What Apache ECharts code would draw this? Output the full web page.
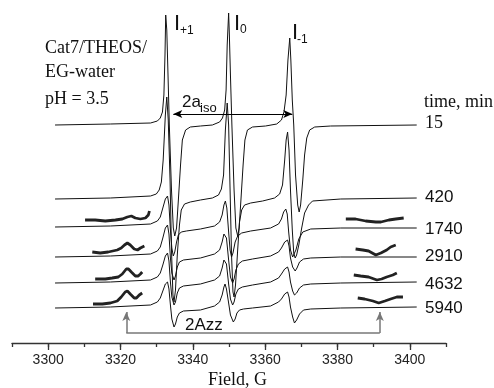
<!DOCTYPE html>
<html><head><meta charset="utf-8">
<script src="https://cdn.jsdelivr.net/npm/echarts@6/dist/echarts.min.js"></script>
<style>html,body{margin:0;padding:0;background:#fff}#c{width:494px;height:388px}</style>
</head><body><div id="c"></div>
<script>
// time labels (min) and vertical offsets of each spectrum
const times = ['15','420','1740','2910','4632','5940'];
const offsets = [218,144,116,86,60,35];
const majorTicks = [3300,3320,3340,3360,3380,3400];

// [field G, intensity]
const spec15 = [[3301.9,0],[3317.2,1],[3328.3,2],[3330.2,4],[3331.0,7],[3331.6,13],[3332.0,30],[3332.3,70],[3332.5,110],[3332.8,95],[3333.1,55],[3333.5,0],[3334.1,-65],[3334.6,-103],[3335.0,-111],[3335.5,-103],[3336.0,-75],[3336.6,-40],[3337.1,-15],[3338.0,-5],[3339.3,-2],[3342.1,-1],[3345.4,0],[3347.4,3],[3348.2,7],[3348.8,15],[3349.2,35],[3349.5,80],[3349.9,112],[3350.1,90],[3350.4,50],[3350.8,0],[3351.4,-65],[3351.9,-103],[3352.4,-111],[3352.8,-103],[3353.3,-75],[3353.9,-40],[3354.4,-15],[3355.1,-5],[3356.5,-2],[3360.1,-1],[3363.2,1],[3364.5,5],[3365.2,13],[3365.8,30],[3366.3,65],[3366.8,87],[3367.1,65],[3367.5,25],[3367.9,0],[3368.4,-50],[3369.0,-80],[3369.4,-87],[3369.8,-80],[3370.4,-55],[3370.9,-30],[3371.5,-13],[3372.3,-5],[3373.7,-2],[3378.1,-1],[3401.9,0]];
const spec420 = [[3301.9,0],[3317.2,1],[3328.3,3],[3329.9,5],[3330.7,9],[3331.3,17],[3331.8,39],[3332.4,84],[3332.8,102],[3333.2,79],[3333.7,19],[3334.1,-51],[3334.5,-96],[3334.8,-103],[3335.2,-91],[3335.7,-56],[3336.3,-26],[3336.8,-11],[3337.7,-5],[3339.3,-3],[3342.1,-1],[3345.4,1],[3347.1,4],[3347.9,10],[3348.5,24],[3349.0,69],[3349.5,96],[3349.9,74],[3350.3,9],[3350.7,-56],[3351.1,-93],[3351.4,-98],[3351.8,-86],[3352.4,-51],[3352.9,-23],[3353.5,-11],[3354.3,-6],[3356.0,-4],[3359.3,-2],[3362.6,1],[3364.0,5],[3364.8,14],[3365.4,39],[3365.8,59],[3366.2,67],[3366.6,49],[3367.0,9],[3367.5,-31],[3367.9,-54],[3368.3,-59],[3368.7,-56],[3369.3,-46],[3370.1,-29],[3370.9,-14],[3372.0,-6],[3373.1,-2],[3380.9,0],[3401.9,1]];
const spec1740 = [[3301.9,0],[3317.2,1],[3328.3,3],[3330.2,6],[3331.0,10],[3331.7,19],[3332.4,28],[3333.0,31],[3333.4,22],[3333.8,-3],[3334.2,-21],[3334.6,-29],[3335.0,-25],[3335.5,-15],[3336.0,-8],[3336.8,-5],[3338.2,-4],[3342.1,-2],[3346.0,1],[3347.4,5],[3348.1,12],[3348.6,22],[3349.0,26],[3349.4,19],[3349.9,-5],[3350.3,-23],[3350.7,-30],[3351.1,-26],[3351.7,-15],[3352.4,-9],[3353.5,-6],[3356.0,-4],[3361.5,-1],[3363.7,3],[3364.5,8],[3365.1,15],[3365.7,18],[3366.1,13],[3366.5,-5],[3367.0,-23],[3367.6,-30],[3368.0,-31],[3368.5,-23],[3369.3,-12],[3370.4,-5],[3372.6,-2],[3380.9,-1],[3401.9,-1]];
const spec2910 = [[3301.9,0],[3317.2,1],[3328.3,3],[3330.2,6],[3331.0,10],[3331.7,19],[3332.4,29],[3333.0,32],[3333.4,23],[3333.8,-1],[3334.2,-16],[3334.8,-23],[3335.2,-19],[3335.7,-10],[3336.3,-5],[3337.4,-3],[3342.1,-1],[3346.0,3],[3347.4,7],[3348.1,15],[3348.6,23],[3348.9,25],[3349.3,19],[3349.9,-3],[3350.4,-20],[3351.0,-26],[3351.4,-22],[3351.9,-13],[3352.6,-7],[3353.7,-4],[3356.5,-2],[3361.5,1],[3363.7,5],[3364.5,9],[3365.4,15],[3366.2,17],[3366.6,11],[3367.0,-1],[3367.6,-10],[3368.3,-14],[3368.8,-11],[3369.5,-5],[3370.6,-2],[3372.6,-1],[3380.9,0],[3401.9,0]];
const spec4632 = [[3301.9,0],[3317.2,1],[3328.3,3],[3330.2,6],[3331.0,10],[3331.7,18],[3332.4,27],[3333.0,30],[3333.4,22],[3333.8,1],[3334.2,-14],[3334.8,-22],[3335.2,-19],[3335.7,-10],[3336.3,-5],[3337.4,-3],[3342.1,-1],[3346.0,3],[3347.4,7],[3348.1,15],[3348.6,23],[3348.9,25],[3349.3,19],[3349.9,-1],[3350.4,-16],[3351.0,-22],[3351.4,-19],[3351.9,-11],[3352.6,-6],[3353.7,-4],[3356.5,-2],[3361.5,1],[3363.7,5],[3364.5,9],[3365.4,14],[3366.2,16],[3366.6,11],[3367.0,1],[3367.6,-8],[3368.1,-12],[3368.7,-10],[3369.5,-5],[3370.6,-2],[3372.6,-1],[3380.9,0],[3401.9,1]];
const spec5940 = [[3301.9,0],[3317.2,1],[3328.3,3],[3330.2,6],[3331.0,10],[3331.7,17],[3332.4,24],[3333.0,26],[3333.4,19],[3333.8,3],[3334.2,-11],[3334.8,-19],[3335.2,-16],[3335.7,-9],[3336.3,-5],[3337.4,-3],[3342.1,-2],[3346.0,2],[3347.4,6],[3348.1,13],[3348.6,21],[3348.9,24],[3349.3,19],[3349.9,5],[3350.4,-7],[3351.2,-14],[3351.7,-11],[3352.2,-5],[3352.9,-2],[3354.0,-1],[3356.5,0],[3361.5,2],[3363.7,6],[3364.5,9],[3365.4,14],[3366.2,16],[3366.6,11],[3367.0,1],[3367.6,-9],[3368.1,-15],[3368.7,-12],[3369.5,-6],[3370.6,-2],[3372.6,-1],[3380.9,0],[3401.9,1]];

// amplified wings (low field / high field) for 1740..5940
const wingL1740 = [[3310.2,7],[3313.0,7],[3315.8,6],[3318.6,7],[3320.5,8],[3321.9,10],[3323.0,11],[3324.1,9],[3325.5,8],[3326.9,9],[3327.7,12],[3328.0,16]];
const wingL2910 = [[3312.2,5],[3314.4,4],[3316.6,5],[3319.1,7],[3320.2,9],[3321.1,12],[3321.9,14],[3322.7,12],[3323.8,8],[3324.7,7],[3325.5,9],[3326.6,11]];
const wingL4632 = [[3313.0,4],[3315.8,4],[3317.7,5],[3319.4,6],[3320.5,9],[3321.6,14],[3322.2,14],[3323.0,11],[3324.1,7],[3324.9,7],[3325.5,9],[3326.0,11]];
const wingL5940 = [[3312.4,4],[3315.0,4],[3317.2,5],[3319.1,7],[3320.2,11],[3321.3,16],[3321.9,17],[3322.7,14],[3323.8,10],[3324.4,10],[3325.2,13],[3326.0,15]];
const wingR1740 = [[3382.3,8],[3385.0,8],[3387.8,6],[3390.6,5],[3392.0,5],[3394.2,7],[3396.1,8],[3398.3,9]];
const wingR2910 = [[3385.0,8],[3387.0,7],[3388.6,6],[3390.6,2],[3392.0,4],[3393.6,7],[3394.7,10],[3396.1,12]];
const wingR4632 = [[3384.5,8],[3386.4,7],[3388.6,6],[3390.9,3],[3392.2,4],[3393.6,6],[3395.3,8],[3396.4,10]];
const wingR5940 = [[3385.6,10],[3387.5,9],[3389.8,7],[3391.4,5],[3393.1,7],[3394.7,9],[3396.4,11],[3398.1,11]];

const spectra = [spec15, spec420, spec1740, spec2910, spec4632, spec5940];
const wings = [[2, wingL1740],[3, wingL2910],[4, wingL4632],[5, wingL5940],[2, wingR1740],[3, wingR2910],[4, wingR4632],[5, wingR5940]];

const SANS = 'Liberation Sans', SERIF = 'Liberation Serif';
const series = [];
spectra.forEach((s, i) => {
  series.push({type:'line', data: s.map(p => [p[0], p[1] + offsets[i]]), showSymbol:false, symbol:'none',
    lineStyle:{color:'#111', width:1}, silent:true, animation:false});
});
wings.forEach(([i, w]) => {
  series.push({type:'line', data: w.map(p => [p[0], p[1] + offsets[i]]), showSymbol:false, symbol:'none',
    lineStyle:{color:'#222', width:2.8}, silent:true, animation:false});
});
// annotations: 2a_iso arrow, 2Azz bracket
series[0].markLine = {silent:true, animation:false, symbol:['arrow','arrow'], symbolSize:[6,9],
  label:{show:false}, lineStyle:{color:'#000', width:1, type:'solid'},
  data:[[{coord:[3334.6,229]},{coord:[3367.5,229]}]]};
series[5].markLine = {silent:true, animation:false, symbolSize:[6,9],
  label:{show:false}, lineStyle:{color:'#777', width:1.5, type:'solid'},
  data:[
    [{coord:[3321.6,10], symbol:'none'},{coord:[3321.6,31], symbol:'arrow'}],
    [{coord:[3321.6,10], symbol:'none'},{coord:[3391.7,10], symbol:'none'}],
    [{coord:[3391.7,10], symbol:'none'},{coord:[3391.7,31], symbol:'arrow'}]
  ]};

const timeY = [123,197,229,256,284,308];
const graphic = [];
function t(x, y, s, size, fam, align) {
  graphic.push({type:'text', x:x, y:y, silent:true, style:{text:s, fontSize:size, fontFamily:fam, fill:'#111',
    align: align || 'left', verticalAlign:'middle'}});
}
t(45, 48, 'Cat7/THEOS/', 18, SERIF);
t(45, 72, 'EG-water', 18, SERIF);
t(45, 99, 'pH = 3.5', 18, SERIF);
t(424, 102, 'time, min', 18, SERIF);
times.forEach((s, i) => t(425, timeY[i], s, i === 0 ? 18 : 17, i === 0 ? SERIF : SANS));
t(174, 24, 'I', 22, SANS); t(180, 31, '+1', 12, SANS);
t(234, 24, 'I', 22, SANS); t(240, 30, '0', 12, SANS);
t(292, 33, 'I', 22, SANS); t(297, 40, '-1', 12, SANS);
t(182, 102, '2a', 17, SANS); t(200, 108, 'iso', 13, SANS);
t(185, 325, '2Azz', 17, SANS);
t(208, 380, 'Field, G', 18, SERIF);

const chart = echarts.init(document.getElementById('c'), null, {renderer:'canvas'});
chart.setOption({
  animation:false,
  grid:{left:12, right:48, top:0, bottom:45, containLabel:false},
  xAxis:[{
    type:'value', min:3290, max:3410, interval:10,
    axisLine:{show:true, lineStyle:{color:'#333', width:1.3}},
    axisTick:{show:true, length:4, lineStyle:{color:'#333', width:1.3}},
    axisLabel:{show:false}, splitLine:{show:false}
  },{
    type:'value', min:3290, max:3410, position:'bottom', offset:0,
    axisLine:{show:false},
    axisTick:{show:true, length:7, customValues:majorTicks, lineStyle:{color:'#333', width:1.3}},
    axisLabel:{show:true, customValues:majorTicks, formatter: v => String(v), fontSize:14, fontFamily:SANS, color:'#222', margin:10},
    splitLine:{show:false}
  }],
  yAxis:{type:'value', min:0, max:343, show:false},
  series: series,
  graphic: graphic
});
</script>
</body></html>
